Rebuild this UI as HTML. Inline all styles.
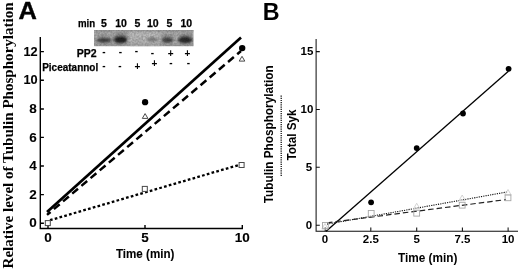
<!DOCTYPE html>
<html><head><meta charset="utf-8"><title>Figure</title>
<style>
html,body{margin:0;padding:0;background:#fff;}
body{width:520px;height:270px;overflow:hidden;}
svg{display:block;}
text{font-family:"Liberation Sans",sans-serif;font-weight:bold;fill:#000;}
.serif{font-family:"Liberation Serif",serif;font-weight:bold;}
</style></head>
<body>
<svg width="520" height="270" viewBox="0 0 520 270">
<defs>
<filter id="bl" x="-50%" y="-50%" width="200%" height="200%"><feGaussianBlur stdDeviation="1.6 1.0"/></filter>
<filter id="soft" x="-5%" y="-5%" width="110%" height="110%"><feGaussianBlur stdDeviation="0.35"/></filter>
<clipPath id="gelclip"><rect x="94" y="30" width="99.6" height="16.2"/></clipPath>
<filter id="noise" x="0" y="0" width="100%" height="100%"><feTurbulence type="fractalNoise" baseFrequency="0.55" numOctaves="2" seed="4"/><feColorMatrix type="matrix" values="0 0 0 0 0  0 0 0 0 0  0 0 0 0 0  1.6 0 0 0 -0.35"/></filter>
</defs>
<rect width="520" height="270" fill="#fff"/>
<g filter="url(#soft)">
<!-- ===== Panel A ===== -->
<text class="serif" transform="translate(12.8,268.5) rotate(-90)" font-size="15" textLength="266.2" lengthAdjust="spacingAndGlyphs">Relative level of Tubulin Phosphorylation</text>
<text x="18.6" y="18.6" font-size="24.7" textLength="18.4" lengthAdjust="spacingAndGlyphs" stroke="#000" stroke-width="0.4">A</text>

<!-- gel -->
<rect x="94" y="30" width="99.6" height="16.2" fill="#b2b2b2"/>
<g clip-path="url(#gelclip)">
<g filter="url(#bl)">
<rect x="129" y="28" width="31" height="20" fill="#c2c2c2"/>
<rect x="90" y="28" width="108" height="3.4" fill="#989898"/>
<rect x="90" y="44" width="108" height="1.2" fill="#8c8c8c"/>
<ellipse cx="103.5" cy="37" rx="6.5" ry="3.4" fill="#a2a2a2"/>
<ellipse cx="120.8" cy="36.5" rx="6.5" ry="3.6" fill="#8a8a8a"/>
<ellipse cx="167.5" cy="37" rx="5.8" ry="3.2" fill="#9c9c9c"/>
<ellipse cx="185.5" cy="36.8" rx="6.8" ry="3.4" fill="#909090"/>
<ellipse cx="104" cy="40.2" rx="7.4" ry="2.7" fill="#444"/>
<ellipse cx="120.6" cy="39.8" rx="7" ry="3.8" fill="#262626"/>
<ellipse cx="137.7" cy="40" rx="5" ry="2.2" fill="#b4b4b4"/>
<ellipse cx="152.5" cy="39.6" rx="6" ry="2.5" fill="#848484"/>
<ellipse cx="167.4" cy="40" rx="6" ry="3" fill="#4a4a4a"/>
<ellipse cx="185.3" cy="39.9" rx="7.2" ry="3.6" fill="#2e2e2e"/>
</g>
<rect x="94" y="29.7" width="99" height="17" filter="url(#noise)" opacity="0.22"/>
</g>

<!-- gel labels -->
<g font-size="10.5" text-anchor="middle" stroke="#000" stroke-width="0.25">
<text x="86.6" y="27" textLength="17.2" lengthAdjust="spacingAndGlyphs">min</text>
<text x="103.8" y="27">5</text><text x="121" y="27">10</text>
<text x="137.5" y="27">5</text><text x="152.8" y="27">10</text>
<text x="169.4" y="27">5</text><text x="186.3" y="27">10</text>
<text x="86.8" y="56.8">PP2</text>
<text x="70.2" y="70.6" textLength="56" lengthAdjust="spacingAndGlyphs">Piceatannol</text>
</g>
<g font-size="10" text-anchor="middle" fill="#222">
<text x="104" y="55">-</text><text x="120.3" y="54.8">-</text><text x="136.5" y="53.8">-</text><text x="152.4" y="56.2">-</text>
<text x="170.6" y="56.8">+</text><text x="187.3" y="56.8">+</text>
<text x="103.8" y="69.4">-</text><text x="120" y="69.3">-</text>
<text x="137.5" y="70.2">+</text><text x="154.4" y="67">+</text>
<text x="171" y="65.9">-</text><text x="188.5" y="65.9">-</text>
</g>

<!-- axes A -->
<g stroke="#000" stroke-width="1.4" fill="none">
<path d="M40.3 37 V228.5 H243"/>
<path d="M40.3 51.6 h3.6 M40.3 80.2 h3.6 M40.3 109 h3.6 M40.3 137.4 h3.6 M40.3 166 h3.6 M40.3 194.6 h3.6 M40.3 223.2 h3.6"/>
<path d="M48 228.5 v-3.6 M145 228.5 v-3.6 M242.3 228.5 v-3.6"/>
</g>
<g font-size="13.5" text-anchor="end" stroke="#000" stroke-width="0.1">
<text x="37.6" y="55.6" textLength="14.2" lengthAdjust="spacingAndGlyphs">12</text><text x="37.6" y="84.2" textLength="14.2" lengthAdjust="spacingAndGlyphs">10</text><text x="36.8" y="113.1">8</text>
<text x="36.8" y="141.5">6</text><text x="36.8" y="170">4</text><text x="36.8" y="198.6">2</text><text x="36.8" y="227.2">0</text>
</g>
<g font-size="13.5" text-anchor="middle" stroke="#000" stroke-width="0.1">
<text x="48" y="242.4">0</text><text x="145" y="242.4">5</text><text x="242.3" y="242.4">10</text>
<text x="145.2" y="258.1" font-size="12.2" textLength="58.5" lengthAdjust="spacingAndGlyphs">Time (min)</text>
</g>

<!-- lines A -->
<line x1="47" y1="212" x2="241" y2="37.6" stroke="#000" stroke-width="2.7"/>
<line x1="47" y1="214.9" x2="241" y2="51" stroke="#000" stroke-width="2.5" stroke-dasharray="7.6 4.4" stroke-dashoffset="3"/>
<line x1="50" y1="220.2" x2="239.5" y2="164.8" stroke="#000" stroke-width="2.3" stroke-dasharray="2.7 2.25"/>
<!-- markers A -->
<circle cx="145.1" cy="102.2" r="3.15" fill="#000"/>
<circle cx="242.2" cy="48.1" r="3.2" fill="#000"/>
<g fill="#fff" stroke="#484848" stroke-width="1">
<path d="M145.1 113.6 l2.8 4.8 h-5.6z"/>
<path d="M242 56.3 l2.8 4.8 h-5.6z"/>
<rect x="45.3" y="220.6" width="5" height="5"/>
<rect x="142.3" y="186.4" width="5" height="5"/>
<rect x="239.1" y="162.5" width="5" height="5"/>
</g>

<!-- ===== Panel B ===== -->
<text x="262.7" y="19.6" font-size="23.3">B</text>
<text transform="translate(272.8,203.2) rotate(-90)" font-size="12.6" textLength="137.8" lengthAdjust="spacingAndGlyphs">Tubulin Phosphorylation</text>
<line x1="281.2" y1="95.5" x2="281.2" y2="176.5" stroke="#111" stroke-width="1.3" stroke-dasharray="1.2 1"/>
<text transform="translate(295.5,160.6) rotate(-90)" font-size="12.6" textLength="51.2" lengthAdjust="spacingAndGlyphs">Total Syk</text>

<g stroke="#111" stroke-width="1.05" fill="none">
<path d="M316.1 39 V231.2 H518"/>
<path d="M316 51.6 h3.8 M316 109.4 h3.8 M316 167.3 h3.8 M316 225.2 h3.8"/>
<path d="M325.2 231.2 v-3.6 M370.8 231.2 v-3.6 M416.7 231.2 v-3.6 M462.4 231.2 v-3.6 M508.1 231.2 v-3.6"/>
</g>
<g font-size="11.5" text-anchor="end">
<text x="313.3" y="54.6">15</text><text x="313.3" y="112.7">10</text><text x="312.2" y="171.1">5</text><text x="312.2" y="229.1">0</text>
</g>
<g font-size="11.5" text-anchor="middle">
<text x="325" y="242.6">0</text><text x="370.8" y="242.6">2.5</text><text x="416.7" y="242.6">5</text><text x="462.4" y="242.6">7.5</text><text x="508.1" y="242.6">10</text>
<text x="427.7" y="262" font-size="12.3" textLength="59.4" lengthAdjust="spacingAndGlyphs">Time (min)</text>
</g>

<!-- lines B -->
<line x1="326.1" y1="231.3" x2="508.4" y2="71.3" stroke="#000" stroke-width="1.3"/>
<line x1="327" y1="224.2" x2="508" y2="191.8" stroke="#111" stroke-width="1.1" stroke-dasharray="1.2 1.1"/>
<line x1="327" y1="222.8" x2="506" y2="199.6" stroke="#222" stroke-width="1.2" stroke-dasharray="5.5 3"/>
<g fill="#000">
<circle cx="371.1" cy="202.3" r="2.9"/><circle cx="416.7" cy="148.1" r="2.9"/>
<circle cx="463" cy="113.5" r="2.9"/><circle cx="508.6" cy="68.8" r="2.9"/>
</g>
<g fill="none" stroke="#cfcfcf" stroke-width="0.9">
<path d="M325 223.5 l3.2 5.6 h-6.4z"/>
<path d="M416.7 203.2 l3.2 5.6 h-6.4z"/>
<path d="M462.2 195 l3.2 5.6 h-6.4z"/>
<path d="M508 189.5 l3.2 5.6 h-6.4z"/>
</g>
<g fill="none" stroke="#a6a6a6" stroke-width="0.9">
<rect x="322.5" y="222.5" width="5.8" height="5.8"/>
<rect x="368.3" y="210.5" width="5.8" height="5.8"/>
<rect x="413.8" y="210.3" width="5.8" height="5.8"/>
<rect x="459.3" y="202.3" width="5.8" height="5.8"/>
<rect x="505.1" y="194.9" width="5.8" height="5.8"/>
</g>
</g>
</svg>
</body></html>
